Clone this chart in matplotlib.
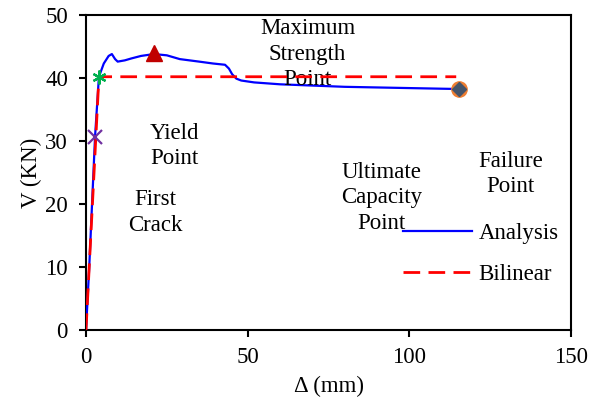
import matplotlib
matplotlib.use("Agg")
import matplotlib.pyplot as plt

# Analysis curve (displacement mm, shear kN)
analysis_x = [0, 1, 2.8, 4.0, 5.5, 7, 8, 9, 9.8, 12, 14, 17, 21, 25, 29, 35, 39.3, 43, 44.2, 45.2, 46.5, 48, 52, 60, 70, 80, 90, 100, 110, 115.4]
analysis_y = [0, 10, 30.7, 40.2, 42.3, 43.5, 43.8, 43.0, 42.6, 42.8, 43.1, 43.5, 43.8, 43.6, 43.0, 42.6, 42.3, 42.1, 41.5, 40.6, 39.9, 39.6, 39.3, 39.0, 38.8, 38.6, 38.5, 38.4, 38.3, 38.25]

# Bilinear idealisation
bilinear_x = [0, 4.0, 114.5]
bilinear_y = [0, 40.2, 40.2]

# Key points
first_crack = (2.8, 30.7)
yield_pt = (4.0, 40.2)
max_pt = (21.0, 44.0)
failure_pt = (115.4, 38.25)

plt.rcParams['font.family'] = ['Liberation Serif', 'DejaVu Serif']

fig = plt.figure(figsize=(5.98, 4.05), dpi=100)
ax = fig.add_axes([86/598, 1 - 330/405, 485/598, 315/405])

ax.plot(analysis_x, analysis_y, color='#0000FF', lw=1.6, label='Analysis', zorder=3)
ax.plot(bilinear_x, bilinear_y, color='#FF0000', lw=2.0, dashes=(6, 3), label='Bilinear', zorder=4)

ax.plot(*first_crack, marker='x', color='#7030A0', ms=9.5, mew=1.6, ls='none', zorder=5)
ax.plot(*yield_pt, marker=(6, 2, 0), color='#00B050', ms=10, mew=1.6, ls='none', zorder=5)
ax.plot(*max_pt, marker='^', color='#C00000', ms=11, ls='none', zorder=5)
ax.plot(*failure_pt, marker='o', color='#ED7D31', ms=11, ls='none', zorder=5)
ax.plot(*failure_pt, marker='D', color='#44546A', ms=7.5, ls='none', zorder=6)

fs = 16.5
ls_ = 1.27
ax.text(68.5, 43.8, 'Maximum\nStrength\nPoint', ha='center', va='center', fontsize=fs, linespacing=ls_)
ax.text(27.5, 29.2, 'Yield\nPoint', ha='center', va='center', fontsize=fs, linespacing=ls_)
ax.text(21.5, 18.65, 'First\nCrack', ha='center', va='center', fontsize=fs, linespacing=ls_)
ax.text(91.4, 21.0, 'Ultimate\nCapacity\nPoint', ha='center', va='center', fontsize=fs, linespacing=ls_)
ax.text(131.3, 24.8, 'Failure\nPoint', ha='center', va='center', fontsize=fs, linespacing=ls_)

ax.set_xlim(0, 150)
ax.set_ylim(0, 50)
ax.set_xticks([0, 50, 100, 150])
ax.set_yticks([0, 10, 20, 30, 40, 50])
ax.tick_params(labelsize=fs, direction='out', length=5, width=1.5, top=False, right=False)
ax.tick_params(axis='x', pad=7)
ax.tick_params(axis='y', pad=8)
for s in ax.spines.values():
    s.set_linewidth(1.5)
ax.set_xlabel('Δ (mm)', fontsize=fs, labelpad=6)
ax.set_ylabel('V (KN)', fontsize=fs, labelpad=2)

ax.legend(loc='upper left', bbox_to_anchor=((403-86)/485, (330-223)/315), frameon=False,
          fontsize=fs, handlelength=3.0, handletextpad=0.3, borderpad=0, borderaxespad=0,
          labelspacing=0.85)

fig.savefig('out.png', dpi=100)
